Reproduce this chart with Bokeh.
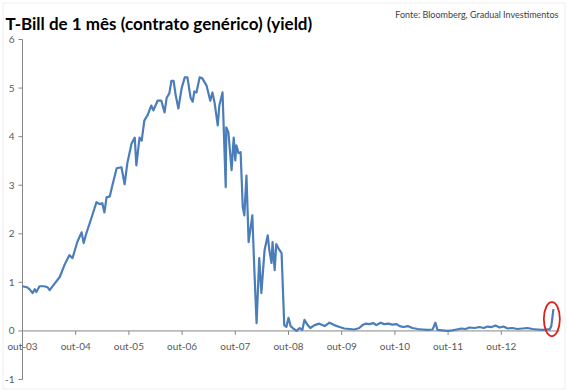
from bokeh.plotting import figure
from bokeh.models import Range1d, BoxAnnotation
from bokeh.embed import file_html
from bokeh.resources import INLINE
from bokeh.core.properties import value

titulo = "T-Bill de 1 mês (contrato genérico) (yield)"
fonte = "Fonte: Bloomberg, Gradual Investimentos"
rotulos_x = ["out-03", "out-04", "out-05", "out-06", "out-07",
             "out-08", "out-09", "out-10", "out-11", "out-12"]
ticks_y = [-1, 0, 1, 2, 3, 4, 5, 6]

# tempo em anos decimais (out-03 = 2003.75)
ano = [
    2003.75, 2003.83, 2003.88, 2003.94, 2003.98, 2004.01, 2004.07, 2004.16, 2004.22, 2004.26,
    2004.35, 2004.45, 2004.54, 2004.63, 2004.69, 2004.78, 2004.86, 2004.90, 2004.95, 2005.05,
    2005.14, 2005.20, 2005.25, 2005.29, 2005.33, 2005.39, 2005.44, 2005.52, 2005.61, 2005.67,
    2005.72, 2005.80, 2005.86, 2005.89, 2005.95, 2005.99, 2006.04, 2006.10, 2006.17, 2006.21,
    2006.29, 2006.36, 2006.42, 2006.46, 2006.51, 2006.55, 2006.59, 2006.63, 2006.68, 2006.74,
    2006.80, 2006.85, 2006.91, 2006.95, 2006.98, 2007.02, 2007.08, 2007.13, 2007.21, 2007.28,
    2007.32, 2007.36, 2007.42, 2007.45, 2007.51, 2007.57, 2007.58, 2007.62, 2007.68, 2007.72,
    2007.75, 2007.77, 2007.81, 2007.85, 2007.89, 2007.92, 2007.96, 2008.00, 2008.07, 2008.11,
    2008.15, 2008.20, 2008.24, 2008.30, 2008.36, 2008.39, 2008.43, 2008.45, 2008.49, 2008.52,
    2008.56, 2008.62, 2008.67, 2008.71, 2008.75, 2008.79, 2008.83, 2008.90, 2008.96, 2009.01,
    2009.05, 2009.11, 2009.16, 2009.24, 2009.33, 2009.43, 2009.52, 2009.61, 2009.71, 2009.80,
    2009.90, 2009.99, 2010.08, 2010.14, 2010.20, 2010.27, 2010.35, 2010.40, 2010.48, 2010.55,
    2010.63, 2010.70, 2010.78, 2010.84, 2010.91, 2010.99, 2011.08, 2011.18, 2011.27, 2011.36,
    2011.46, 2011.51, 2011.55, 2011.64, 2011.74, 2011.83, 2011.91, 2012.00, 2012.08, 2012.15,
    2012.25, 2012.34, 2012.42, 2012.49, 2012.57, 2012.64, 2012.72, 2012.79, 2012.87, 2012.96,
    2013.05, 2013.15, 2013.24, 2013.34, 2013.43, 2013.52, 2013.60, 2013.66, 2013.69, 2013.73,
]
taxa = [
    0.92, 0.90, 0.86, 0.78, 0.86, 0.80, 0.92, 0.92, 0.90, 0.84,
    0.97, 1.11, 1.36, 1.56, 1.50, 1.83, 2.03, 1.81, 2.01, 2.34,
    2.65, 2.61, 2.63, 2.44, 2.75, 2.77, 3.00, 3.35, 3.37, 3.02,
    3.45, 3.86, 3.98, 3.41, 3.98, 3.92, 4.33, 4.44, 4.64, 4.54,
    4.74, 4.74, 4.50, 4.80, 4.89, 5.15, 5.15, 4.85, 4.58, 4.99,
    5.22, 5.22, 4.80, 4.72, 4.93, 4.91, 5.22, 5.20, 5.05, 4.74,
    4.91, 4.70, 4.23, 4.64, 4.91, 2.96, 4.19, 4.09, 3.31, 3.98,
    3.51, 3.82, 3.66, 3.68, 2.55, 2.38, 3.20, 1.83, 2.38, 1.20,
    0.16, 1.50, 0.78, 1.66, 1.97, 1.66, 1.40, 1.83, 1.25, 1.79,
    1.70, 1.60, 0.12, 0.08, 0.27, 0.10, 0.06, 0.00, 0.06, 0.02,
    0.23, 0.12, 0.06, 0.12, 0.15, 0.10, 0.17, 0.12, 0.08, 0.05,
    0.04, 0.03, 0.06, 0.12, 0.15, 0.14, 0.16, 0.12, 0.17, 0.14,
    0.15, 0.13, 0.14, 0.10, 0.08, 0.10, 0.06, 0.04, 0.03, 0.02,
    0.03, 0.17, 0.02, 0.01, 0.00, 0.01, 0.03, 0.05, 0.04, 0.07,
    0.06, 0.08, 0.06, 0.09, 0.08, 0.11, 0.07, 0.09, 0.05, 0.06,
    0.04, 0.05, 0.06, 0.04, 0.03, 0.02, 0.03, 0.03, 0.10, 0.45,
]

W, H = 567, 391
x_ini = 2003.75            # primeiro rótulo (out-03)
px_ano = 53.2              # pixels por ano
px_un = 340 / 7.0          # pixels por ponto percentual
eixo_x_px, topo_px = 22, 39

def dx(px):
    return x_ini + (px - eixo_x_px) / px_ano

def dy(py):
    return 6 - (py - topo_px) / px_un

p = figure(width=W, height=H, output_backend="svg", toolbar_location=None,
           x_range=Range1d(dx(0), dx(W)), y_range=Range1d(dy(H), dy(0)),
           x_axis_type=None, y_axis_type=None, min_border=0)
p.outline_line_color = None
p.grid.visible = False
p.background_fill_color = "white"
p.border_fill_color = "white"

# moldura externa
p.add_layout(BoxAnnotation(left=dx(2.5), right=dx(W - 2.5), bottom=dy(H - 2.5), top=dy(2.5),
                           fill_color=None, line_color="#c8c8c8", line_width=1))

cinza = "#868686"
# eixo y
p.segment(x0=[x_ini], y0=[ticks_y[0]], x1=[x_ini], y1=[ticks_y[-1]], line_color=cinza, line_width=1)
p.segment(x0=[dx(eixo_x_px - 4)] * len(ticks_y), y0=ticks_y,
          x1=[x_ini] * len(ticks_y), y1=ticks_y, line_color=cinza, line_width=1)
p.text(x=[x_ini] * len(ticks_y), y=ticks_y, text=[str(t) for t in ticks_y],
       text_align="right", text_baseline="middle", x_offset=-8,
       text_font=value("Lato"), text_font_size="10px", text_color="#595959")

# eixo x em y = 0
tx = [x_ini + i for i in range(len(rotulos_x))]
p.segment(x0=[x_ini], y0=[0], x1=[dx(W - 8)], y1=[0], line_color=cinza, line_width=1)
p.segment(x0=tx, y0=[0] * len(tx), x1=tx, y1=[-4 / px_un] * len(tx), line_color=cinza, line_width=1)
p.text(x=tx, y=[0] * len(tx), text=rotulos_x, text_align="center", text_baseline="top",
       y_offset=9, text_font=value("Lato"), text_font_size="10px", text_color="#595959")

# série
p.line(ano, taxa, line_color="#4a7dba", line_width=2.2, line_join="round")

# destaque
p.ellipse(x=[ano[-1] - 0.03], y=[taxa[-1] / 2 + 0.02], width=[16], height=[34],
          width_units="screen", height_units="screen",
          fill_color=None, line_color="#e0201b", line_width=1.8)

# textos
p.text(x=[dx(5)], y=[dy(23)], text=[titulo], text_baseline="alphabetic",
       text_font=value("Lato"), text_font_style="bold", text_font_size="17px", text_color="#000000")
p.text(x=[dx(558)], y=[dy(14)], text=[fonte], text_align="right", text_baseline="alphabetic",
       text_font=value("Lato"), text_font_size="9px", text_color="#404040")

open("out.html", "w").write(file_html(p, INLINE))
